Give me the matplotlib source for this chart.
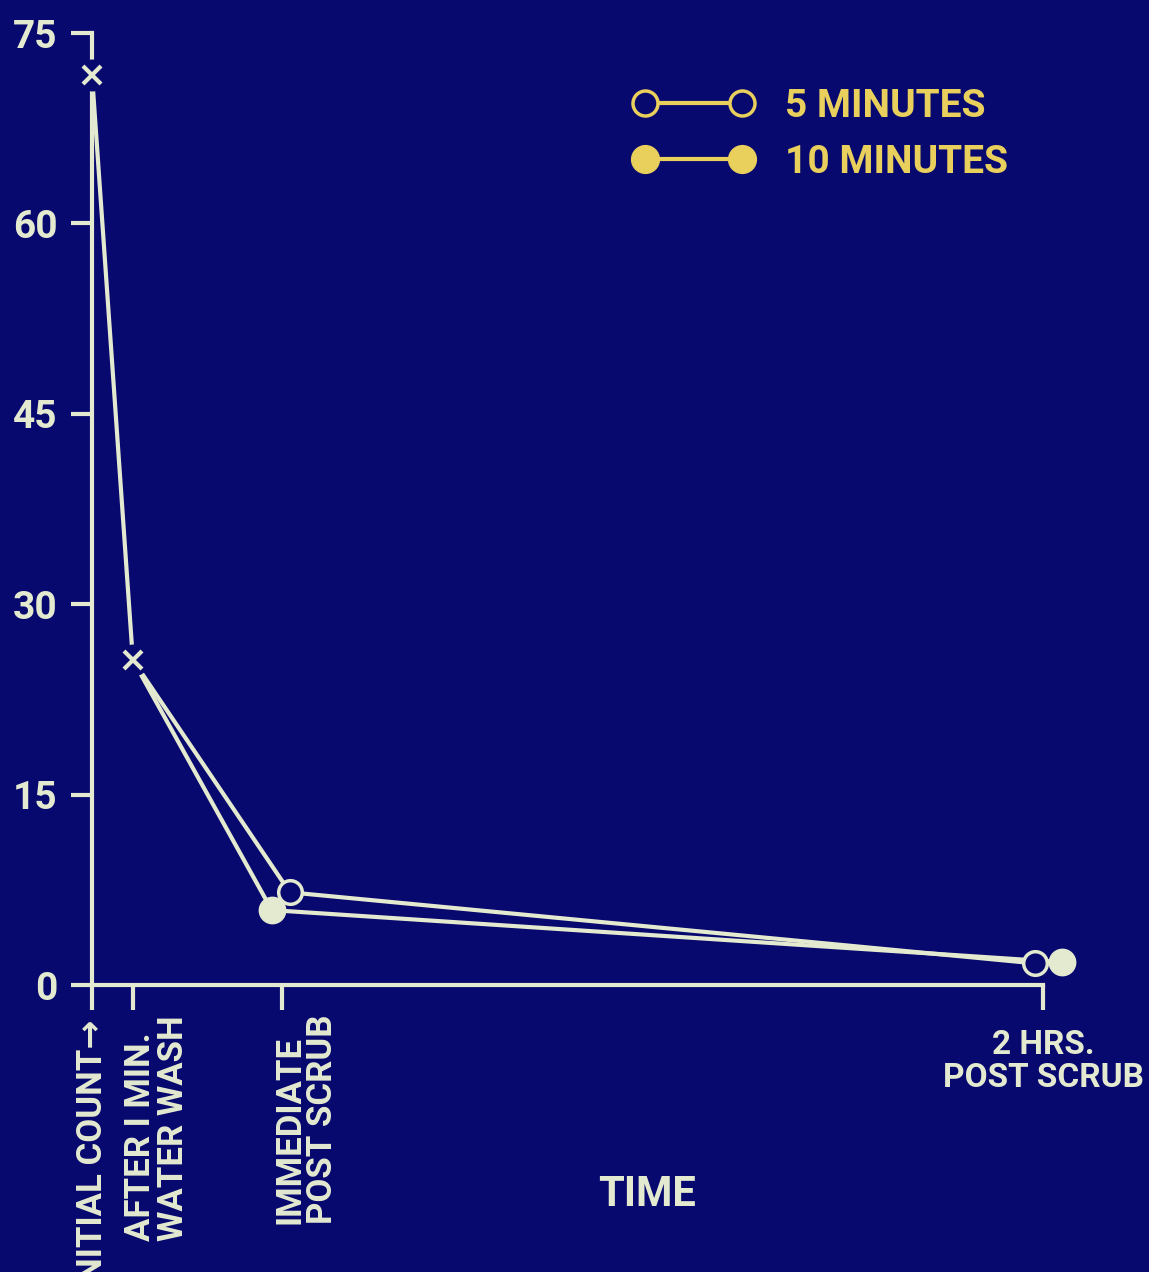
import matplotlib
matplotlib.use("Agg")
import matplotlib.pyplot as plt
from matplotlib.lines import Line2D

BG = '#08096e'
CREAM = '#e4ead0'
YELLOW = '#e9cf5c'
plt.rcParams['font.family'] = ['Roboto', 'DejaVu Sans']
plt.rcParams['font.weight'] = 'bold'

# time points (horizontal position on the slide's scale, 2 hrs = 100)
time_labels = ['INITIAL COUNT\u2192', 'AFTER I MIN.\nWATER WASH',
               'IMMEDIATE\nPOST SCRUB', '2 HRS.\nPOST SCRUB']
time_pos = [0, 4.3, 20.0, 100.0]

# shared first two readings (x markers)
x_common = [0, 4.3]
y_common = [71.7, 25.6]

# 5 minute scrub (open circles), 10 minute scrub (filled circles)
x_5min = [4.3, 20.8, 99.2]
y_5min = [25.6, 7.3, 1.7]
x_10min = [4.3, 18.9, 102.0]
y_10min = [25.6, 5.9, 1.8]

y_ticks = [0, 15, 30, 45, 60, 75]

fig = plt.figure(figsize=(11.49, 12.72), dpi=100, facecolor=BG)
ax = fig.add_axes([92/1149, 287/1272, 951/1149, 952/1272])
ax.set_facecolor(BG)
ax.set_xlim(0, 100)
ax.set_ylim(0, 75)

ax.plot(x_common, y_common, '-', color=CREAM, lw=3, clip_on=False, zorder=3)
ax.plot(x_5min, y_5min, '-', color=CREAM, lw=3, clip_on=False, zorder=3)
ax.plot(x_10min, y_10min, '-', color=CREAM, lw=3, clip_on=False, zorder=3)
# small gap round the x markers
ax.plot(x_common, y_common, 'o', ms=22, color=BG, mec=BG, clip_on=False, zorder=4)
ax.plot(x_common, y_common, 'x', ms=13, mew=3, color=CREAM, clip_on=False, zorder=5)
ax.plot(x_5min[1:], y_5min[1:], 'o', ms=17, mfc=BG, mec=CREAM, mew=2.5,
        clip_on=False, zorder=5)
ax.plot(x_10min[1:], y_10min[1:], 'o', ms=19, color=CREAM, clip_on=False, zorder=5)

for s in ['top', 'right']:
    ax.spines[s].set_visible(False)
for s in ['left', 'bottom']:
    ax.spines[s].set_color(CREAM)
    ax.spines[s].set_linewidth(3)

ax.set_yticks(y_ticks)
ax.tick_params(axis='y', length=15, width=3, color=CREAM, labelcolor=CREAM,
               labelsize=28, pad=10)
ax.set_xticks(time_pos, [''] * len(time_pos))
ax.tick_params(axis='x', length=18, width=3, color=CREAM)

for i, (x, lab) in enumerate(zip(time_pos, time_labels)):
    if i == 0:
        ax.annotate(lab, xy=(x, 0), xycoords=('data', 'axes fraction'),
                    xytext=(0, -35), textcoords='offset pixels', rotation=90,
                    ha='center', va='top', color=CREAM, fontsize=25)
    elif i < 3:
        ax.annotate(lab, xy=(x, 0), xycoords=('data', 'axes fraction'),
                    xytext=(-9, -30), textcoords='offset pixels', rotation=90,
                    ha='left', va='top', multialignment='left', linespacing=1.0,
                    color=CREAM, fontsize=25)
    else:
        ax.annotate(lab, xy=(x, 0), xycoords=('data', 'axes fraction'),
                    xytext=(0, -44), textcoords='offset pixels',
                    ha='center', va='top', multialignment='center', linespacing=1.05,
                    color=CREAM, fontsize=24)

fig.text(647/1149, 1 - 1195/1272, 'TIME', ha='center', va='center',
         color=CREAM, fontsize=30)

handles = [Line2D([], [], color=YELLOW, lw=3, marker='o', ms=18, mfc=BG,
                  mec=YELLOW, mew=2.5),
           Line2D([], [], color=YELLOW, lw=3, marker='o', ms=20, mfc=YELLOW,
                  mec=YELLOW)]
leg = ax.legend(handles, ['5 MINUTES', '10 MINUTES'], numpoints=2,
                loc='upper left', bbox_to_anchor=(633/1149, 1 - 88/1272),
                bbox_transform=fig.transFigure, frameon=False, fontsize=28,
                handlelength=3.1, handletextpad=0.82, labelspacing=0.48,
                borderpad=0, borderaxespad=0)
for t in leg.get_texts():
    t.set_color(YELLOW)

fig.savefig("out.png", dpi=100, facecolor=BG)
